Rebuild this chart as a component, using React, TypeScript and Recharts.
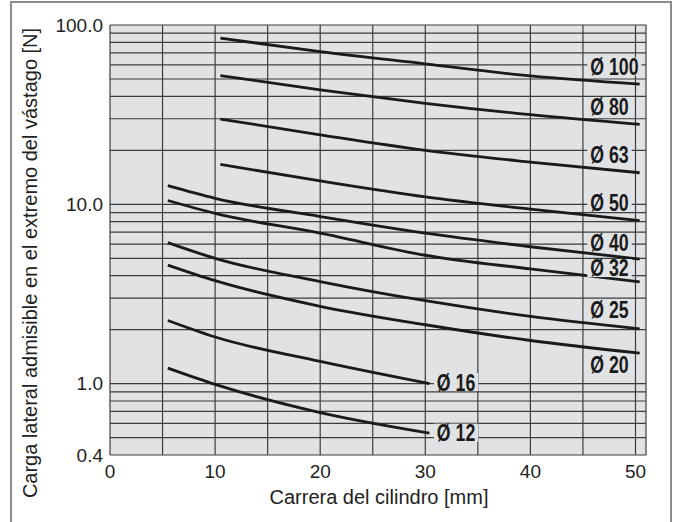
import { LineChart, Line, XAxis, YAxis, ReferenceLine, ReferenceDot, CartesianGrid } from 'recharts'

const X_TICKS = [0, 10, 20, 30, 40, 50]
const Y_TICKS = [0.4, 1, 10, 100]
const GRID_X = [0, 5, 10, 15, 20, 25, 30, 35, 40, 45, 50, 51]
const GRID_Y = [0.4, 0.5, 0.6, 0.7, 0.8, 0.9, 1, 2, 3, 4, 5, 6, 7, 8, 9, 10, 20, 30, 40, 50, 60, 70, 80, 90, 100]

// carrera [mm] / carga [N]
const D100 = [{ x: 10.5, y: 84.4 }, { x: 20, y: 71 }, { x: 30, y: 60.7 }, { x: 40, y: 52 }, { x: 50.4, y: 46.8 }]
const D80 = [{ x: 10.5, y: 52.2 }, { x: 20, y: 43.5 }, { x: 30, y: 36.6 }, { x: 40, y: 31.6 }, { x: 50.4, y: 27.9 }]
const D63 = [{ x: 10.5, y: 29.9 }, { x: 20, y: 24.4 }, { x: 30, y: 20.0 }, { x: 40, y: 17.2 }, { x: 50.4, y: 15.0 }]
const D50 = [{ x: 10.5, y: 16.7 }, { x: 20, y: 13.5 }, { x: 30, y: 11.0 }, { x: 40, y: 9.4 }, { x: 50.4, y: 8.1 }]
const D40 = [{ x: 5.5, y: 12.7 }, { x: 10, y: 10.8 }, { x: 20, y: 8.55 }, { x: 30, y: 6.9 }, { x: 40, y: 5.8 }, { x: 50.4, y: 4.95 }]
const D32 = [{ x: 5.5, y: 10.5 }, { x: 10, y: 8.9 }, { x: 20, y: 6.9 }, { x: 30, y: 5.2 }, { x: 40, y: 4.36 }, { x: 50.4, y: 3.69 }]
const D25 = [{ x: 5.5, y: 6.12 }, { x: 10, y: 5.0 }, { x: 20, y: 3.71 }, { x: 30, y: 2.9 }, { x: 40, y: 2.37 }, { x: 50.4, y: 2.02 }]
const D20 = [{ x: 5.5, y: 4.58 }, { x: 10, y: 3.75 }, { x: 20, y: 2.7 }, { x: 30, y: 2.13 }, { x: 40, y: 1.74 }, { x: 50.4, y: 1.48 }]
const D16 = [{ x: 5.5, y: 2.25 }, { x: 10, y: 1.82 }, { x: 20, y: 1.33 }, { x: 30.4, y: 1.0 }]
const D12 = [{ x: 5.5, y: 1.22 }, { x: 10, y: 0.99 }, { x: 20, y: 0.69 }, { x: 30.4, y: 0.53 }]

const SERIES = [D100, D80, D63, D50, D40, D32, D25, D20, D16, D12]

const LABELS = [
  { text: 'Ø 100', x: 45.7, y: 58.7 },
  { text: 'Ø 80', x: 45.7, y: 34.9 },
  { text: 'Ø 63', x: 45.7, y: 18.9 },
  { text: 'Ø 50', x: 45.7, y: 10.25 },
  { text: 'Ø 40', x: 45.7, y: 6.15 },
  { text: 'Ø 32', x: 45.7, y: 4.41 },
  { text: 'Ø 25', x: 45.7, y: 2.58 },
  { text: 'Ø 20', x: 45.7, y: 1.28 },
  { text: 'Ø 16', x: 31.1, y: 1.02 },
  { text: 'Ø 12', x: 31.1, y: 0.533 },
]

const PLOT_BG = '#e1e2e4'
const GRID = '#3c3c3c'
const FONT = '"Liberation Sans", Arial, sans-serif'

// bold condensed look: Liberation Sans Bold squeezed horizontally
const LABEL_SIZE = 23
const SQUEEZE = 0.77

const DiaLabel = ({ cx, cy, text }: { cx?: number; cy?: number; text: string }) => {
  if (cx == null || cy == null) return null
  const w = (1.056 + 0.556 * (text.length - 2)) * LABEL_SIZE * SQUEEZE
  return (
    <g>
      <rect x={cx - 3} y={cy - 9} width={w + 6} height={18} fill={PLOT_BG} />
      <text
        transform={`translate(${cx},${cy}) scale(${SQUEEZE},1)`}
        x={0}
        y={0}
        dominantBaseline="central"
        fontFamily={FONT}
        fontWeight="bold"
        fontSize={LABEL_SIZE}
        fill="#1a1a1a"
      >
        {text}
      </text>
    </g>
  )
}

export default function App() {
  return (
    <div style={{ position: 'absolute', left: 0, top: 0, width: 673, height: 522, background: '#fff', overflow: 'hidden' }}>
      <div style={{ position: 'absolute', left: 10, top: 1, width: 658, height: 540, borderTop: '2px solid #8c8c8c', borderLeft: '2px solid #8c8c8c', borderRight: '2px solid #8c8c8c' }} />
      <LineChart width={673} height={522} margin={{ top: 25, right: 27, bottom: 37, left: 0 }} style={{ position: 'absolute', left: 0, top: 0 }}>
        <CartesianGrid fill={PLOT_BG} horizontal={false} vertical={false} />
        <XAxis
          type="number"
          dataKey="x"
          domain={[0, 51]}
          ticks={X_TICKS}
          allowDataOverflow
          axisLine={false}
          tickLine={false}
          tickSize={0}
          tickMargin={10}
          height={30}
          tick={{ fill: '#222', fontSize: 19, fontFamily: FONT }}
          label={() => (
            <text x={379} y={497} textAnchor="middle" dominantBaseline="central" fontSize={20} fontFamily={FONT} fill="#222">
              Carrera del cilindro [mm]
            </text>
          )}
        />
        <YAxis
          type="number"
          scale="log"
          domain={[0.4, 100]}
          ticks={Y_TICKS}
          allowDataOverflow
          axisLine={false}
          tickLine={false}
          tickSize={0}
          tickMargin={7}
          width={110}
          tickFormatter={(v: number) => v.toFixed(1)}
          tick={{ fill: '#222', fontSize: 19, fontFamily: FONT }}
          label={() => (
            <text transform="translate(30,263) rotate(-90)" textAnchor="middle" dominantBaseline="central" fontSize={20} fontFamily={FONT} fill="#222">
              Carga lateral admisible en el extremo del vástago [N]
            </text>
          )}
        />
        {GRID_X.map((v) => (
          <ReferenceLine key={'gx' + v} x={v} stroke={GRID} strokeWidth={1.2} />
        ))}
        {GRID_Y.map((v) => (
          <ReferenceLine key={'gy' + v} y={v} stroke={GRID} strokeWidth={1.2} />
        ))}
        {LABELS.map((l) => (
          <ReferenceDot
            key={l.text}
            x={l.x}
            y={l.y}
            r={0}
            shape={(p: { cx?: number; cy?: number }) => <DiaLabel cx={p.cx} cy={p.cy} text={l.text} />}
          />
        ))}
        {SERIES.map((d, i) => (
          <Line
            key={i}
            data={d}
            dataKey="y"
            type="monotone"
            stroke="#1a1a1a"
            strokeWidth={2.8}
            dot={false}
            activeDot={false}
            isAnimationActive={false}
          />
        ))}
      </LineChart>
    </div>
  )
}
